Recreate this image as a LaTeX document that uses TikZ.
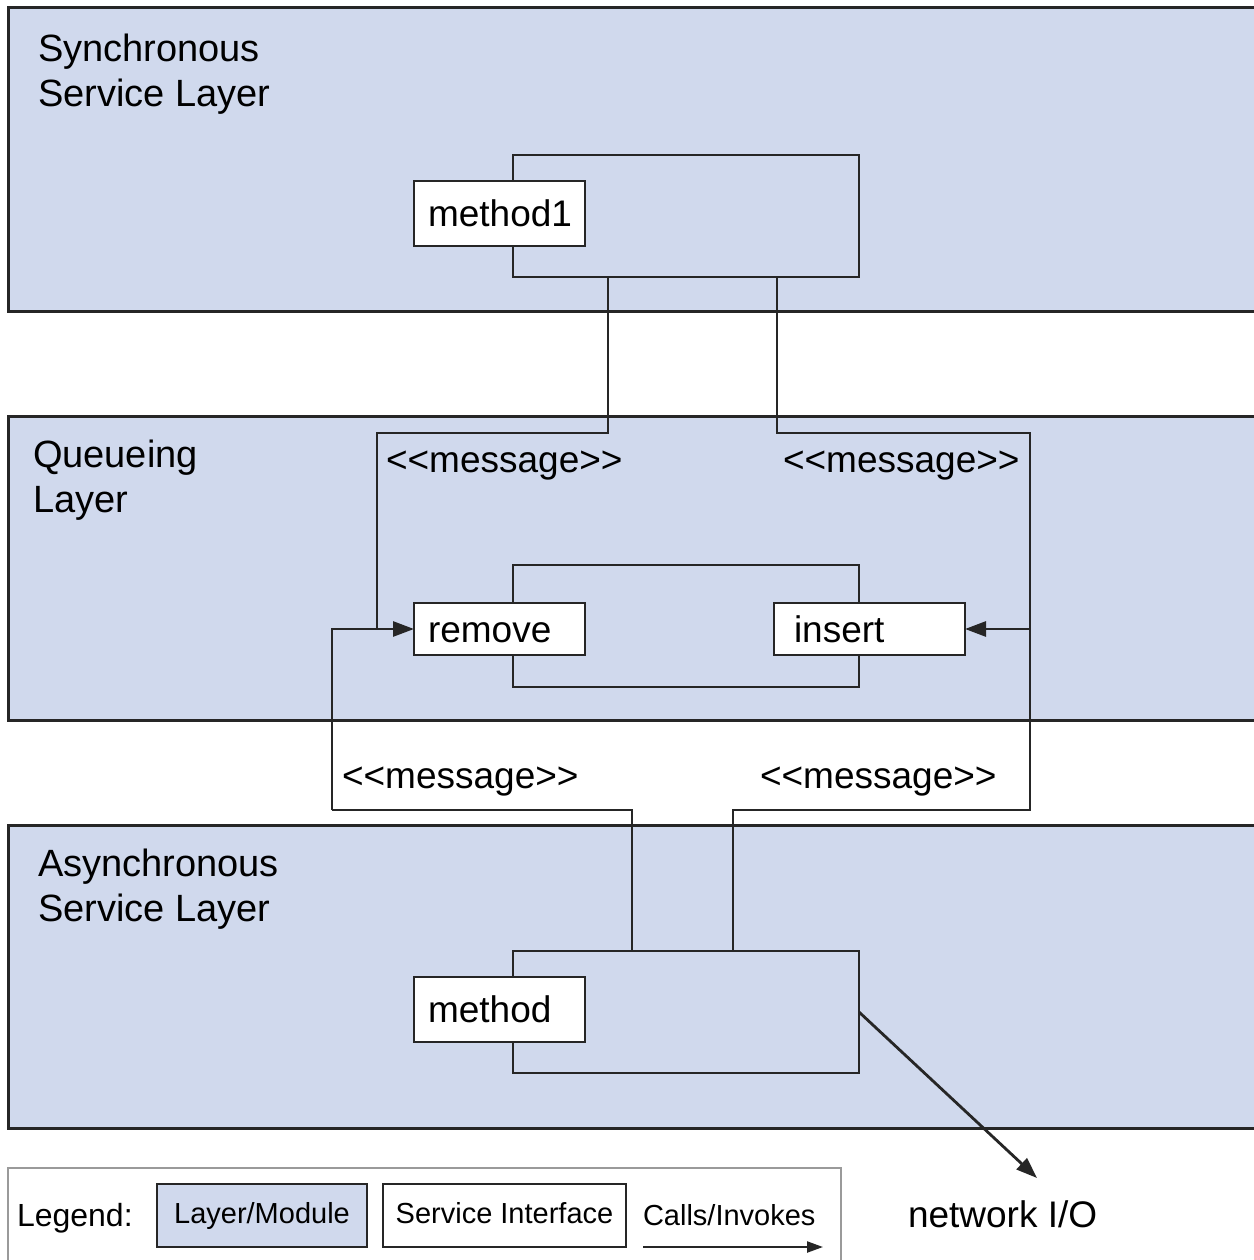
\documentclass[tikz,border=0pt]{standalone}
\usepackage{fontspec}
\setmainfont{Liberation Sans}
\usetikzlibrary{arrows.meta,calc}
\definecolor{layerblue}{HTML}{D0D9ED}
\definecolor{ink}{HTML}{262626}
\definecolor{legendgray}{HTML}{9A9A9A}
\begin{document}
\begin{tikzpicture}[x=1pt,y=-1pt,
  every node/.style={inner sep=0pt, outer sep=0pt},
  layer/.style={draw=ink, line width=3pt, fill=layerblue, anchor=north west, minimum width=1262pt, minimum height=#1},
  module/.style={draw=ink, line width=2.8pt, fill=layerblue, anchor=north west, minimum width=346pt, minimum height=122pt},
  iface/.style={draw=ink, line width=2.8pt, fill=white, anchor=north west, minimum height=#1,
    text height=26pt, text depth=0pt, align=left, inner xsep=14pt, text width=143pt,
    font=\fontsize{37}{44}\selectfont},
  ttl/.style={font=\fontsize{38}{45}\selectfont, align=left, anchor=north west},
  msg/.style={font=\fontsize{37}{44}\selectfont, anchor=base west},
  wire/.style={draw=ink, line width=2.8pt},
  arr/.style={wire, -{Triangle[length=21pt,width=15pt]}},
  legtxt/.style={font=\fontsize{29}{35}\selectfont, text height=22pt, text depth=7pt},
]
\useasboundingbox (0,0) rectangle (1253,1260);
\fill[white] (0,0) rectangle (1253,1260);

% layers
\node[layer=303pt] (sync) at (8,8) {};
\node[layer=304pt] (queue) at (8,416) {};
\node[layer=303pt] (async) at (8,825) {};

\node[ttl] (syncT) at (38,34) {Synchronous\\Service Layer};
\node[ttl] (queueT) at (33,440) {Queueing\\Layer};
\node[ttl] (asyncT) at (38,849) {Asynchronous\\Service Layer};

% modules
\node[module] (sm) at (513,155) {};
\node[module] (qm) at (513,565) {};
\node[module] (am) at (513,951) {};

% connectors
\coordinate (j1) at (377,630);
\coordinate (c2) at (1030,433);
\coordinate (c3) at (1030,810);
\coordinate (c4) at (1030,629);
\coordinate (c5) at (332,810);
\coordinate (netend) at (1037,1178);

\draw[wire] ([xshift=95pt]sm.south west) -- ++(0,156) -| (j1);
\draw[wire] ([xshift=264pt]sm.south west) |- (c2) -- (c3) -| ([xshift=220pt]am.north west);
\draw[wire] ([xshift=119pt]am.north west) |- (c5);

% interfaces
\node[iface=65pt] (m1) at (414,181) {method1};
\node[iface=52pt] (rem) at (414,603) {remove};
\node[iface=52pt, inner xsep=20pt, text width=151pt] (ins) at (774,603) {insert};
\node[iface=65pt] (mth) at (414,977) {method};

\draw[arr] (c5) |- (rem.west);
\draw[arr] (c4) -- (ins.east);
\draw[arr] (am.east) -- (netend);

% message labels
\node[msg] (msg1) at (386,472) {<{}<message>{}>};
\node[msg] (msg2) at (783,472) {<{}<message>{}>};
\node[msg] (msg3) at (342,788) {<{}<message>{}>};
\node[msg] (msg4) at (760,788) {<{}<message>{}>};

\node[font=\fontsize{37}{44}\selectfont, anchor=base west] (net) at (908,1227) {network I/O};

% legend
\node[draw=legendgray, line width=2pt, fill=white, anchor=north west, minimum width=833pt, minimum height=120pt] (legend) at (8,1168) {};
\node[font=\fontsize{32}{38}\selectfont, anchor=base west] (legT) at (17,1226) {Legend:};
\node[draw=ink, line width=2.8pt, fill=layerblue, anchor=north west, minimum width=210pt, minimum height=63pt, legtxt] (legL) at (157,1184) {Layer/Module};
\node[draw=ink, line width=2.8pt, fill=white, anchor=north west, minimum width=243pt, minimum height=63pt, legtxt] (legS) at (383,1184) {Service Interface};
\node[legtxt, anchor=base west] (legC) at (643,1225) {Calls/Invokes};
\coordinate (la1) at (643,1247);
\coordinate (la2) at (823,1247);
\draw[wire, line width=2.2pt, -{Triangle[length=16pt,width=11pt]}] (la1) -- (la2);
\end{tikzpicture}
\end{document}
